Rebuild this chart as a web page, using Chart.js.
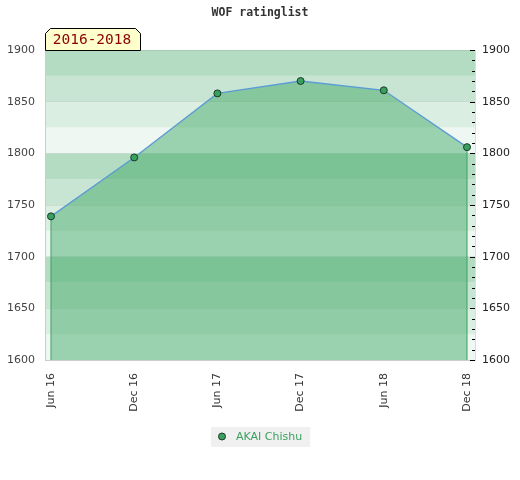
<!DOCTYPE html>
<html>
<head>
<meta charset="utf-8">
<script src="https://cdn.jsdelivr.net/npm/chart.js@4/dist/chart.umd.min.js"></script>
<style>
html,body{margin:0;padding:0;background:#fff;}
#wrap{width:520px;height:480px;}
</style>
</head>
<body>
<div id="wrap"><canvas id="c" width="520" height="480"></canvas></div>
<script>
// ---- data ----
const chartTitle = 'WOF ratinglist';
const periodLabel = '2016-2018';
const seriesName = 'AKAI Chishu';
const periods = ['Jun 16', 'Dec 16', 'Jun 17', 'Dec 17', 'Jun 18', 'Dec 18'];
const ratings = [1739, 1796, 1858, 1870, 1861, 1806];
const yTickValues = [1600, 1650, 1700, 1750, 1800, 1850, 1900];
const bandStarts = [1600, 1625, 1650, 1675, 1700, 1725, 1750, 1775, 1800, 1825, 1850, 1875];
const bandColors = ['#eef7f1', '#dbeee2', '#c8e5d3', '#b3dcc2',
                    '#eef7f1', '#dbeee2', '#c8e5d3', '#b3dcc2',
                    '#eef7f1', '#dbeee2', '#c8e5d3', '#b3dcc2'];
const bandSize = 25;

const yMin = yTickValues[0];
const yMax = yTickValues[yTickValues.length - 1];
const lastIdx = ratings.length - 1;

const GREEN = '#3aa05e';

const bandsPlugin = {
  id: 'bands',
  beforeDraw(chart) {
    const {ctx, chartArea: a, scales: {y}} = chart;
    ctx.save();
    bandStarts.forEach((s, i) => {
      const top = y.getPixelForValue(s + bandSize);
      const bot = y.getPixelForValue(s);
      ctx.fillStyle = bandColors[i];
      ctx.fillRect(a.left, top, a.right - a.left, bot - top);
    });
    ctx.restore();
  },
  afterDraw(chart) {
    const {ctx, chartArea: a, scales: {y2}} = chart;
    ctx.save();
    // right-side inner tick marks
    ctx.strokeStyle = '#000';
    ctx.lineWidth = 1;
    y2.ticks.forEach(t => {
      const py = Math.round(y2.getPixelForValue(t.value)) + 0.5;
      const len = (t.value % 50 === 0) ? 5 : 3;
      ctx.beginPath();
      ctx.moveTo(a.right - len, py);
      ctx.lineTo(a.right, py);
      ctx.stroke();
    });
    // title
    ctx.fillStyle = '#333';
    ctx.font = 'bold 11.5px "DejaVu Sans Mono", monospace';
    ctx.textAlign = 'center';
    ctx.textBaseline = 'middle';
    ctx.fillText(chartTitle, 260, 13);
    // period label box with chamfered top corners
    const bx = a.left, by = 28, bw = 95, bh = a.top - 28, c = 5;
    ctx.beginPath();
    ctx.moveTo(bx + 0.5, a.top + 0.5);
    ctx.lineTo(bx + 0.5, by + c + 0.5);
    ctx.lineTo(bx + c + 0.5, by + 0.5);
    ctx.lineTo(bx + bw - c + 0.5, by + 0.5);
    ctx.lineTo(bx + bw + 0.5, by + c + 0.5);
    ctx.lineTo(bx + bw + 0.5, a.top + 0.5);
    ctx.closePath();
    ctx.fillStyle = '#ffffcc';
    ctx.fill();
    ctx.strokeStyle = '#000';
    ctx.stroke();
    ctx.fillStyle = '#8b0000';
    ctx.font = '14.5px "DejaVu Sans Mono", monospace';
    ctx.textAlign = 'center';
    ctx.textBaseline = 'middle';
    ctx.fillText(periodLabel, bx + bw / 2 - 0.5, by + bh / 2 + 1);
    // legend
    ctx.font = '11px "DejaVu Sans", sans-serif';
    const tw = ctx.measureText(seriesName).width;
    const lx = 211, ly = 427, lw = 25 + tw + 8;
    ctx.fillStyle = '#f0f0f0';
    ctx.fillRect(lx, ly, lw, 20);
    ctx.beginPath();
    ctx.arc(lx + 11, ly + 9.5, 3.5, 0, Math.PI * 2);
    ctx.fillStyle = GREEN;
    ctx.fill();
    ctx.strokeStyle = '#1c3a28';
    ctx.stroke();
    ctx.fillStyle = GREEN;
    ctx.textAlign = 'left';
    ctx.textBaseline = 'middle';
    ctx.fillText(seriesName, lx + 25, ly + 10);
    ctx.restore();
  }
};

const mainData = ratings.map((v, i) => ({x: i, y: v}));

new Chart(document.getElementById('c'), {
  type: 'line',
  data: {
    datasets: [
      {
        label: seriesName,
        data: mainData,
        borderColor: '#5b9bd5',
        borderWidth: 1.3,
        backgroundColor: 'rgba(63,168,100,0.48)',
        fill: 'start',
        tension: 0,
        pointRadius: 3.5,
        pointBackgroundColor: GREEN,
        pointBorderColor: '#1c3a28',
        pointBorderWidth: 1,
        order: 1
      },
      {
        data: [{x: 0, y: yMin}, {x: 0, y: ratings[0]}],
        borderColor: GREEN, borderWidth: 1, pointRadius: 0, fill: false, order: 2
      },
      {
        data: [{x: lastIdx, y: yMin}, {x: lastIdx, y: ratings[lastIdx]}],
        borderColor: GREEN, borderWidth: 1, pointRadius: 0, fill: false, order: 2
      }
    ]
  },
  options: {
    responsive: false,
    animation: false,
    devicePixelRatio: 1,
    layout: {padding: {top: 50, left: 0, right: 0, bottom: 0}},
    plugins: {
      legend: {display: false},
      title: {display: false},
      tooltip: {enabled: false}
    },
    scales: {
      x: {
        type: 'linear',
        min: -0.0721,
        max: 5.0961,
        afterBuildTicks(scale) { scale.ticks = periods.map((p, i) => ({value: i})); },
        afterFit(scale) { scale.height = 120; },
        ticks: {
          autoSkip: false,
          minRotation: 90,
          maxRotation: 90,
          padding: 13,
          color: '#333',
          font: {family: '"DejaVu Sans", sans-serif', size: 11},
          callback: (v) => periods[v]
        },
        grid: {display: false, drawTicks: false},
        border: {display: true, color: '#cccccc', width: 1}
      },
      y: {
        position: 'left',
        min: yMin,
        max: yMax,
        afterBuildTicks(scale) { scale.ticks = yTickValues.map(v => ({value: v})); },
        afterFit(scale) { scale.width = 45; },
        ticks: {
          padding: 10,
          color: '#444',
          font: {family: '"DejaVu Sans", sans-serif', size: 11},
          callback: (v) => String(v)
        },
        grid: {color: 'rgba(0,0,0,0.07)', drawTicks: false},
        border: {display: true, color: '#cccccc', width: 1}
      },
      y2: {
        position: 'right',
        min: yMin,
        max: yMax,
        afterFit(scale) { scale.width = 45; },
        ticks: {
          stepSize: 10,
          autoSkip: false,
          padding: 7,
          color: '#222',
          font: {family: '"DejaVu Sans", sans-serif', size: 11},
          callback: (v) => (v % 50 === 0 ? String(v) : '')
        },
        grid: {drawOnChartArea: false, drawTicks: false},
        border: {display: true, color: '#dddddd', width: 1}
      }
    }
  },
  plugins: [bandsPlugin]
});
</script>
</body>
</html>
